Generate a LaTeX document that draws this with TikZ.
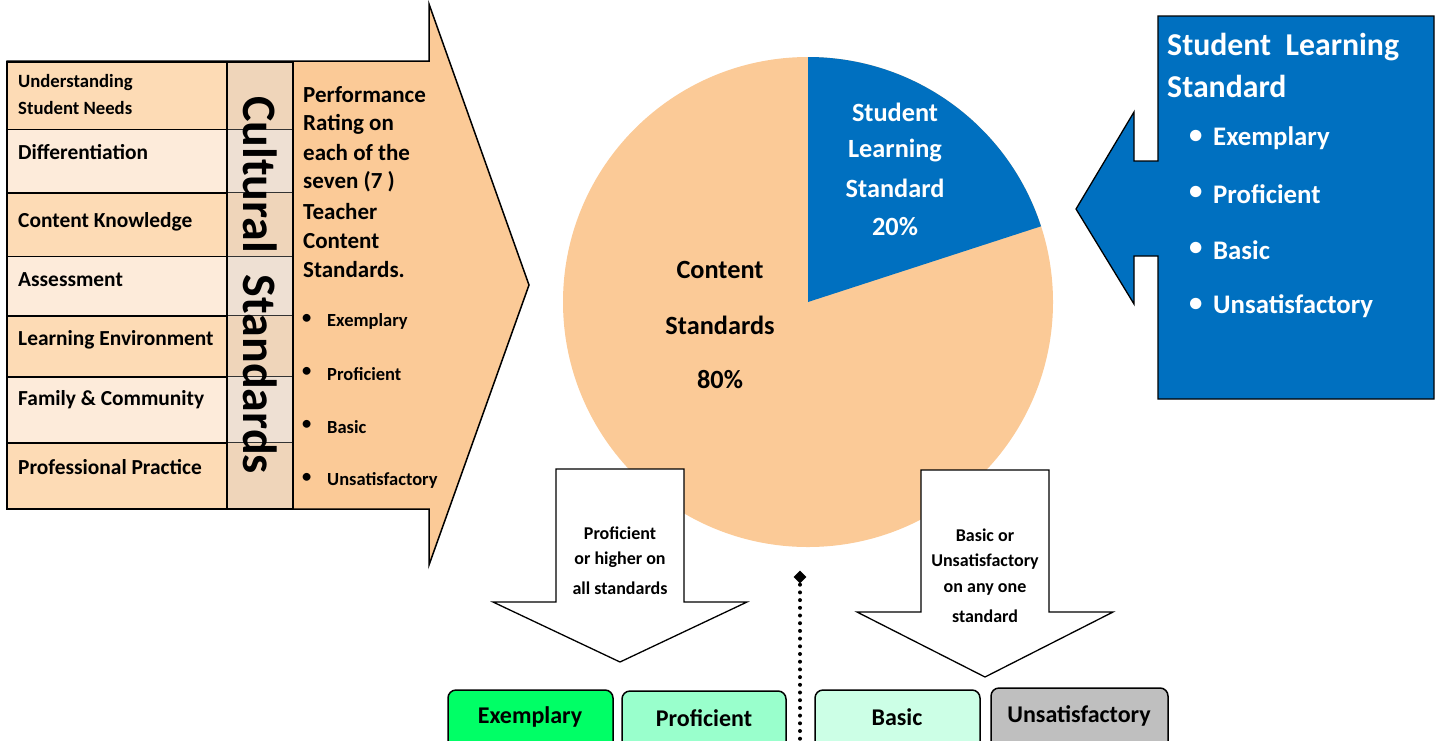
\documentclass[tikz,border=0pt]{standalone}
\usepackage{fontspec}
\setmainfont{Carlito}
\usetikzlibrary{shapes.geometric}
\definecolor{peach}{HTML}{FBCA97}
\definecolor{rowA}{HTML}{FDDBB5}
\definecolor{rowB}{HTML}{FDEBDA}
\definecolor{midA}{HTML}{EFD5BA}
\definecolor{midB}{HTML}{EEE0D3}
\definecolor{slblue}{HTML}{0070C0}
\definecolor{exgreen}{HTML}{00FF66}
\definecolor{prgreen}{HTML}{99FFCC}
\definecolor{bagreen}{HTML}{CCFFE6}
\definecolor{ungrey}{HTML}{BFBFBF}
\newcommand\myfs[2]{\fontsize{#1}{#2}\selectfont}
\tikzset{
  rowtxt/.style={anchor=west, font=\bfseries\myfs{21.4}{24}, inner sep=0},
  perf/.style={anchor=west, font=\bfseries\myfs{23}{27}, inner sep=0},
  smallbul/.style={anchor=west, font=\bfseries\myfs{18.5}{21}, inner sep=0},
  bluetxt/.style={anchor=west, font=\bfseries\myfs{31.8}{36}, text=white, inner sep=0},
  bluebul/.style={anchor=west, font=\bfseries\myfs{26.8}{30}, text=white, inner sep=0},
  pietxt/.style={font=\bfseries\myfs{26.3}{30}, inner sep=0},
  arrtxt/.style={font=\bfseries\myfs{18}{20}, inner sep=0},
  levelbox/.style={draw, line width=1.5pt, rounded corners=8pt},
  leveltxt/.style={font=\bfseries\myfs{24}{27}, inner sep=0},
  tline/.style={line width=1.6pt},
}
\begin{document}
\begin{tikzpicture}[x=1pt,y=-1pt]
\useasboundingbox (0,0) rectangle (1438,740);
\clip (0,0) rectangle (1438,740);

% pie
\fill[peach] (808,302) circle (245);
\fill[slblue] (808,302) -- ++(-90:245) arc[start angle=-90, end angle=-18, radius=245] -- cycle;
\node[pietxt, text=white] (s1) at (895,112) {Student};
\node[pietxt, text=white] (s2) at (895,150) {Learning};
\node[pietxt, text=white] (s3) at (895,188) {Standard};
\node[pietxt, text=white] (s4) at (895,227) {20\%};
\node[pietxt] (c1) at (720,270) {Content};
\node[pietxt] (c2) at (720,325) {Standards};
\node[pietxt] (c3) at (720,380) {80\%};

% left big arrow
\draw[line width=1.5pt, fill=peach] (7,61) -- (429,61) -- (429,4) -- (529,285) -- (429,565) -- (429,509) -- (7,509) -- cycle;

% table rows
\foreach \ya/\yb/\ca/\cb in {62/129.5/rowA/midA, 129.5/193/rowB/midB, 193/256.5/rowA/midA, 256.5/316/rowB/midB, 316/377/rowA/midA, 377/443/rowB/midB, 443/509/rowA/midA}{
  \fill[\ca] (7,\ya) rectangle (227,\yb);
  \fill[\cb] (227,\ya) rectangle (293,\yb);
  \draw[tline] (7,\ya) rectangle (227,\yb);
  \draw[tline, black!80] (227,\yb) -- (293,\yb);
}
\draw[tline] (227,62) rectangle (293,509);

\node[rowtxt, font=\bfseries\myfs{18.7}{22}] (r1a) at (18,83) {Understanding};
\node[rowtxt, font=\bfseries\myfs{18.7}{22}] (r1b) at (18,108) {Student Needs};
\node[rowtxt] (r2) at (18,152) {Differentiation};
\node[rowtxt] (r3) at (18,222) {Content Knowledge};
\node[rowtxt] (r4) at (18,280) {Assessment};
\node[rowtxt] (r5) at (18,340) {Learning Environment};
\node[rowtxt] (r6) at (18,400) {Family \& Community};
\node[rowtxt] (r7) at (18,467) {Professional Practice};

\node[rotate=-90, font=\bfseries\myfs{48}{50}, inner sep=0] (cult) at (260,285) {Cultural\hspace{0.45em}Standards};

\node[perf] (p1) at (303,95) {Performance};
\node[perf] (p2) at (303,124) {Rating on};
\node[perf] (p3) at (303,153) {each of the};
\node[perf] (p4) at (303,182) {seven (7 )};
\node[perf] (p5) at (303,212) {Teacher};
\node[perf] (p6) at (303,241) {Content};
\node[perf] (p7) at (303,270) {Standards.};

\foreach \yy/\tt/\nm in {321/Exemplary/b1, 374/Proficient/b2, 427/Basic/b3, 480/Unsatisfactory/b4}{
  \node[smallbul] (\nm d) at (302,\yy-2) {•};
  \node[smallbul] (\nm) at (327,\yy) {\tt};
}

% blue callout
\draw[line width=1.3pt, fill=slblue] (1158,16) -- (1434,16) -- (1434,399) -- (1158,399) -- (1158,256) -- (1134,256) -- (1134,304) -- (1076,209) -- (1134,112) -- (1134,161) -- (1158,161) -- cycle;
\node[bluetxt] (t1) at (1167,47) {Student\ \ Learning};
\node[bluetxt] (t2) at (1167,86) {Standard};
\foreach \yy/\tt/\nm in {138/Exemplary/e1, 194/Proficient/e2, 250/Basic/e3, 306/Unsatisfactory/e4}{
  \node[bluebul] (\nm d) at (1189,\yy-1) {•};
  \node[bluebul] (\nm) at (1213,\yy) {\tt};
}

% down arrows
\draw[line width=1.3pt, fill=white] (556,469) -- (684,469) -- (684,602) -- (747,602) -- (620,662) -- (493,602) -- (556,602) -- cycle;
\node[arrtxt] (a1) at (620,533) {Proficient};
\node[arrtxt] (a2) at (620,560) {or higher on};
\node[arrtxt] (a3) at (620,588) {all standards};

\draw[line width=1.3pt, fill=white] (921,470) -- (1049,470) -- (1049,612) -- (1113,612) -- (985,677) -- (857,612) -- (921,612) -- cycle;
\node[arrtxt] (d1) at (985,535) {Basic or};
\node[arrtxt] (d2) at (985,562) {Unsatisfactory};
\node[arrtxt] (d3) at (985,589) {on any one};
\node[arrtxt] (d4) at (985,616) {standard};

% dotted divider
\node[diamond, fill=black, minimum size=13pt, inner sep=0] (dm) at (800,577) {};
\coordinate (dend) at (800,745);
\draw[line width=4pt, dash pattern=on 0pt off 7.7pt, line cap=round] (dm.center) -- (dend);

% level boxes
\draw[levelbox, fill=exgreen] (448,690) rectangle (613,760);
\draw[levelbox, fill=prgreen] (622,691) rectangle (786,760);
\draw[levelbox, fill=bagreen] (815,690) rectangle (980,760);
\draw[levelbox, fill=ungrey] (991,688) rectangle (1168,760);
\node[leveltxt] (l1) at (530,717) {Exemplary};
\node[leveltxt] (l2) at (704,718) {Proficient};
\node[leveltxt] (l3) at (897,717) {Basic};
\node[leveltxt] (l4) at (1079,716) {Unsatisfactory};
\end{tikzpicture}
\end{document}
